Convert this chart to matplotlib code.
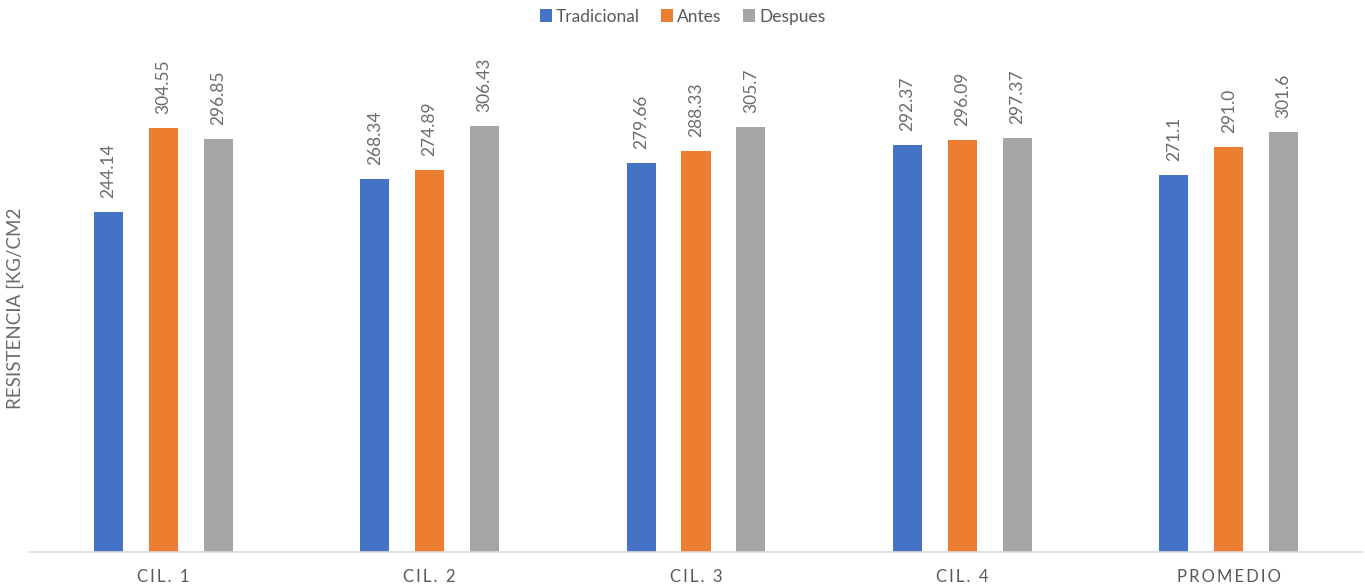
import matplotlib
matplotlib.use("Agg")
import matplotlib.pyplot as plt
import numpy as np

categories = ["CIL. 1", "CIL. 2", "CIL. 3", "CIL. 4", "PROMEDIO"]
series_names = ["Tradicional", "Antes", "Despues"]
tradicional = [244.14, 268.34, 279.66, 292.37, 271.1]
antes = [304.55, 274.89, 288.33, 296.09, 291.0]
despues = [296.85, 306.43, 305.7, 297.37, 301.6]
colors = ["#4472C4", "#ED7D31", "#A5A5A5"]

plt.rcParams['font.family'] = ['Lato', 'DejaVu Sans']
fig = plt.figure(figsize=(13.65, 5.88), dpi=100)
ax = fig.add_axes([30/1365, 36/588, 1332/1365, 487/588])

x = np.arange(len(categories))
offsets = [-0.206, 0.0, 0.206]
width = 0.109
for vals, off, col, name in zip([tradicional, antes, despues], offsets, colors, series_names):
    bars = ax.bar(x + off, vals, width, color=col, label=name)
    for b, v in zip(bars, vals):
        ax.annotate(f"{v}", (b.get_x() + b.get_width()/2, v), xytext=(0, 10),
                    textcoords="offset points", rotation=90, ha="center", va="bottom",
                    fontsize=12.5, color="#6b6b6b")

def spaced(s):
    return "\u2009".join(s).replace("\u2009 \u2009", "  ")

ax.set_xlim(-0.5, 4.5)
ax.set_ylim(0, 350)
ax.set_yticks([])
ax.set_xticks(x)
ax.set_xticklabels([spaced(c) for c in categories], fontsize=12, color="#595959")
ax.tick_params(axis='x', length=0, pad=12)
for s in ["top", "right", "left"]:
    ax.spines[s].set_visible(False)
ax.spines["bottom"].set_color("#D9D9D9")
ax.spines["bottom"].set_linewidth(1.2)
ax.set_ylabel("RESISTENCIA [KG/CM2", fontsize=13.5, color="#6b6b6b", labelpad=4)

leg = fig.legend(loc="upper center", bbox_to_anchor=(0.5, 1.012), ncol=3, frameon=False,
                 fontsize=12.5, handlelength=0.7, handleheight=0.7, handletextpad=0.25,
                 columnspacing=1.2, labelcolor="#595959")

fig.savefig("out.png", dpi=100)
